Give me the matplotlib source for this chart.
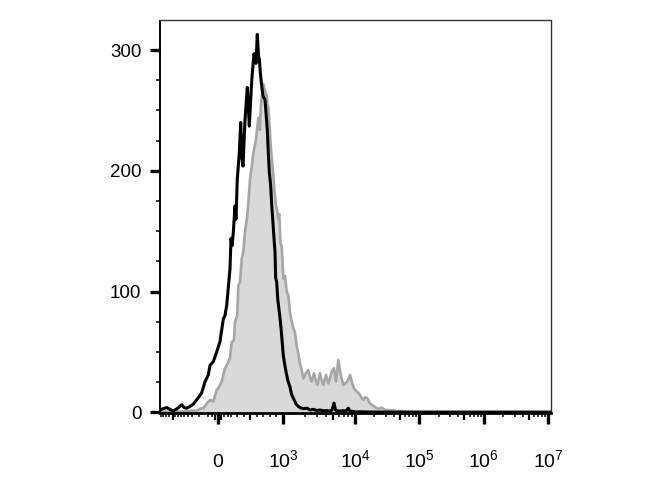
import numpy as np
import matplotlib
matplotlib.use("Agg")
import matplotlib.pyplot as plt
from matplotlib.ticker import FixedLocator, NullFormatter

plt.rcParams['font.family'] = ['Liberation Sans', 'DejaVu Sans']
plt.rcParams['mathtext.fontset'] = 'custom'
plt.rcParams['mathtext.rm'] = 'Liberation Sans'
plt.rcParams['mathtext.it'] = 'Liberation Sans:italic'

# ---- data: histogram counts over display channels (0..1024) ----
black_ch = [0, 8, 17.5, 26, 35, 44.5, 57, 63, 70, 78.6, 87, 96, 102, 109, 118, 126.5, 131, 139.6,
            148.5, 157, 166, 170, 174.7, 179.4, 183.3, 186, 188.6, 192, 196.4, 199, 202.4, 207.7,
            211.4, 214.8, 217.4, 222.6, 228.6, 231.8, 233.9, 240.2, 246.2, 251.4, 254.8, 258,
            260.1, 263.2, 266.4, 269.8, 275, 277.6, 281, 283.6, 286.3, 289.9, 292.5, 295.2, 298.6,
            301.2, 303, 305.6, 308.3, 314.3, 316.9, 323, 327.4, 331.8, 335.2, 340.5, 344.4, 349.1,
            356.2, 362.2, 366.7, 375.3, 385, 392.9, 401.5, 411.2, 419, 427.7, 437.4, 445.2, 450.5,
            455.7, 459.7, 462.8, 471.4, 479.3, 487.1, 493.2, 497.6, 505.5, 513.3, 523.8, 550,
            628.6, 759.5, 890.5, 1024]
black_counts = [2, 3, 4, 2.5, 1.3, 3, 6.3, 4, 3.5, 5, 6.8, 10.4, 13, 16, 25.5, 31, 39, 42,
                50, 58.5, 77.7, 80, 88.7, 105, 119, 144, 138, 149, 171, 160, 193, 215,
                240, 210, 204, 242, 269, 250, 237, 275, 297, 289, 313, 296,
                292, 280, 270, 262, 259, 248, 234, 215, 199, 188, 172, 160, 144,
                133, 111, 108, 94, 78, 70, 47, 38, 31, 26, 21, 15, 11.8,
                7, 5, 4, 3, 3.5, 2, 2.5, 1.5, 2, 1.3, 1.5, 1, 2,
                7.7, 2, 1.3, 1, 1.5, 1, 3.5, 1, 0.8, 0.3, 0.5, 0.3,
                0.2, 0.2, 0.2, 0.2]

gray_ch = [0, 39.3, 65.5, 87.2, 96.1, 104.8, 113.4, 121.8, 131, 139.6, 148.5, 152.7, 161.6, 170.2,
           174.7, 183.3, 187.8, 193.8, 196.4, 202.4, 205.1, 209.5, 214, 218.2, 222.6, 228.6, 231.8,
           235.7, 241, 244.4, 248.9, 251.4, 257.5, 261.9, 264.5, 267.1, 270.5, 275, 279.5, 281.6,
           283.6, 286.8, 289.9, 293.3, 296.7, 299.9, 303.8, 306.4, 309.8, 312.4, 315.6, 318.7,
           323, 327.4, 331.8, 336, 340.5, 344.4, 349.1, 353.6, 358, 362.7, 366.7, 370.6, 375.3,
           381.1, 388.4, 392.9, 397.3, 403.3, 407.3, 412, 419, 423, 427.7, 434.7, 440.8, 445.2,
           449.6, 455.7, 460.9, 467, 473.3, 480.1, 484.5, 490.5, 497.6, 504.7, 509.4, 515.2,
           519.9, 523.8, 527.8, 532.5, 537, 543, 548.7, 554.5, 560.5, 567.6, 573.6, 580.6,
           586.7, 593.7, 602.4, 611.1, 620.7, 628.6, 641.7, 654.8, 681, 759.5, 890.5, 1024]
gray_counts = [0.5, 0.5, 1, 1.5, 1.3, 3, 3.5, 7, 10.4, 9, 18.6, 20, 25.5, 36.5,
               39, 45, 58, 60, 75, 80, 105, 108, 127, 133, 149, 163, 175,
               193, 205, 215, 222, 226, 244, 234, 255, 262, 272, 266, 262, 255,
               253, 238, 221, 208, 196, 183, 171, 168, 160, 164, 140, 138,
               111, 113, 100, 97, 83, 76, 70, 66, 55, 48, 40, 36, 28,
               32, 35, 29, 25.5, 32.4, 27, 22.7, 32.4, 27, 22.7, 31, 24, 28,
               33.8, 36.5, 25.5, 43.4, 31, 22.7, 24, 25.5, 31, 22.7, 19, 17.3,
               16, 14.5, 12, 10.4, 12.5, 11.8, 8, 6.3, 5, 3.5, 3, 4,
               2.5, 2, 1.8, 1.6, 1, 1.2, 0.6, 0.5, 0.4, 0.3, 0.3, 0.3]

x_major_values = [0, 1e3, 1e4, 1e5, 1e6, 1e7]
x_major_labels = ['0', r'$\mathregular{10^{3}}$', r'$\mathregular{10^{4}}$',
                  r'$\mathregular{10^{5}}$', r'$\mathregular{10^{6}}$', r'$\mathregular{10^{7}}$']
y_major = [0, 100, 200, 300]


# ---- biexponential-like display transform: value -> channel ----
def to_channel(v):
    v = float(v)
    if v >= 1e4:
        return 510.7 + 168.7 * (np.log10(v) - 4)
    if v >= 1e3:
        return 322.1 + 188.6 * (np.log10(v) - 3)
    if v >= -300:
        return 151.9 + 0.1702 * v
    return 100.8 - 127.8 * np.log10(-v / 300.0)


medium_vals = [-1000, -50, 50, 500] + [5 * 10 ** k for k in range(3, 7)]
minor_vals = ([-1800, -1600, -1400, -1200] + list(range(-900, -250, 100)) +
              [-150, -100, 100, 150] + list(range(200, 1000, 100)) +
              [m * 10 ** k for k in range(3, 7) for m in (2, 3, 4, 6, 7, 8, 9)])

fig = plt.figure(figsize=(6.7, 5.0), dpi=100)
ax = fig.add_axes([160 / 670, 87 / 500, 391 / 670, 392.5 / 500])

ax.fill_between(gray_ch, gray_counts, 0, color='#d9d9d9', lw=0, zorder=1)
ax.plot(gray_ch, gray_counts, color='#a6a6a6', lw=1.9, zorder=2)
ax.plot(black_ch, black_counts, color='black', lw=2.2, zorder=3)

ax.set_xlim(0, 1024)
ax.set_ylim(-0.5, 324.5)

# y ticks
ax.yaxis.set_major_locator(FixedLocator(y_major))
ax.yaxis.set_minor_locator(FixedLocator(np.arange(0, 325, 25)))
ax.set_yticklabels([str(v) for v in y_major])
ax.tick_params(axis='y', which='major', length=7.5, width=2.4, pad=6, labelsize=13.5)
ax.tick_params(axis='y', which='minor', length=3, width=1.1)

# x ticks
ax.xaxis.set_major_locator(FixedLocator([to_channel(v) for v in x_major_values]))
ax.xaxis.set_minor_locator(FixedLocator([to_channel(v) for v in minor_vals]))
ax.xaxis.set_minor_formatter(NullFormatter())
ax.set_xticklabels(x_major_labels)
ax.tick_params(axis='x', which='major', length=8, width=2.4, pad=31, labelsize=14)
ax.tick_params(axis='x', which='minor', length=3, width=1.1)
for t in ax.xaxis.get_major_ticks():
    t.label1.set_va('baseline')

# medium ticks on a twin axis
ax2 = ax.twiny()
ax2.set_xlim(ax.get_xlim())
ax2.xaxis.set_ticks_position('bottom')
ax2.xaxis.set_major_locator(FixedLocator([to_channel(v) for v in medium_vals]))
ax2.xaxis.set_major_formatter(NullFormatter())
ax2.tick_params(axis='x', which='major', length=5, width=1.6)
for s in ax2.spines.values():
    s.set_visible(False)

ax.spines['left'].set_linewidth(1.4)
ax.spines['bottom'].set_linewidth(2.0)
for s in ('top', 'right'):
    ax.spines[s].set_linewidth(1.0)
    ax.spines[s].set_color('#333333')

fig.savefig('out.png', dpi=100)
